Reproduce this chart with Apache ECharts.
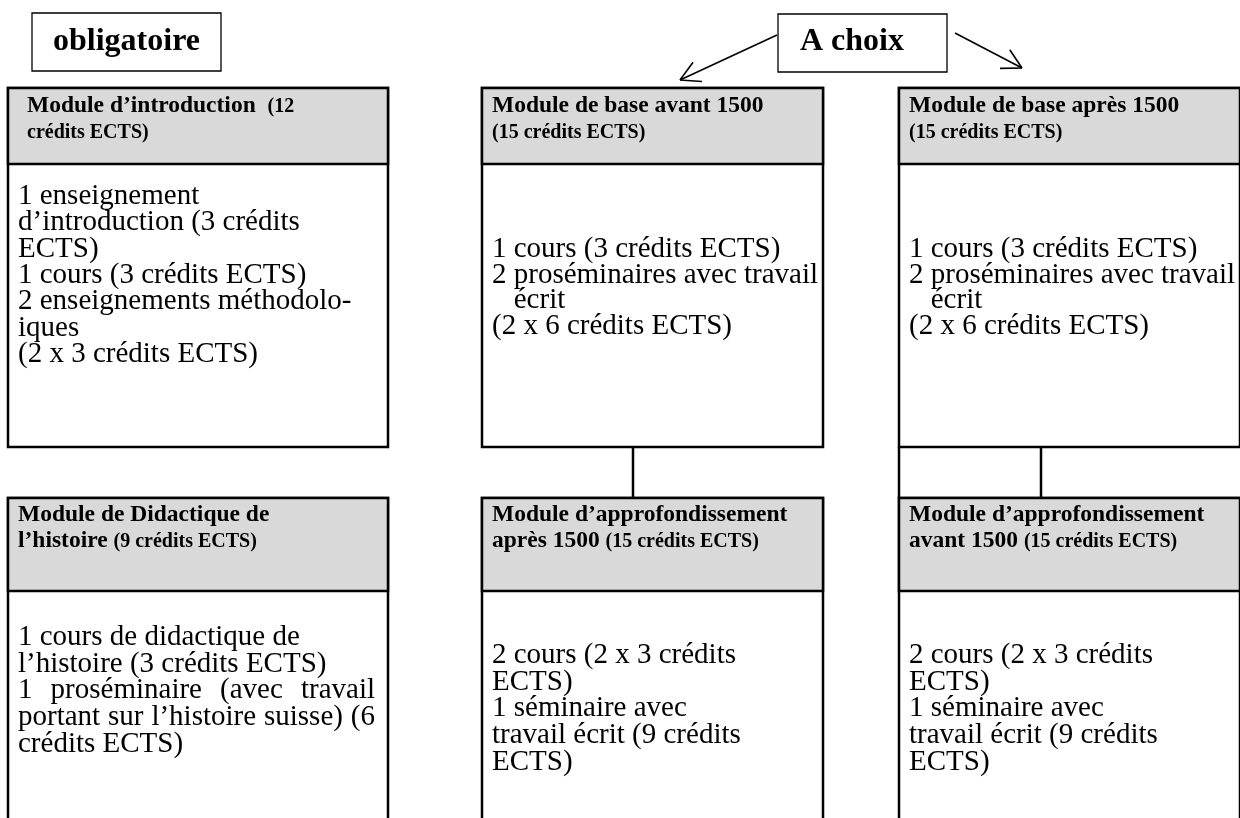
<!DOCTYPE html>
<html>
<head>
<meta charset="utf-8">
<script src="https://cdn.jsdelivr.net/npm/echarts@6/dist/echarts.min.js"></script>
<style>
  html, body { margin: 0; padding: 0; background: #fff; }
  #chart { width: 1240px; height: 818px; }
</style>
</head>
<body>
<div id="chart"></div>
<script>
// labels above the columns
const groupLabels = ['obligatoire', 'A choix'];

// module headers, line by line as wrapped in the original (credits part starts at '(')
const moduleHeader = [
  ['Module d’introduction  (12', 'crédits ECTS)'],
  ['Module de base avant 1500', '(15 crédits ECTS)'],
  ['Module de base après 1500', '(15 crédits ECTS)'],
  ['Module de Didactique de', 'l’histoire (9 crédits ECTS)'],
  ['Module d’approfondissement', 'après 1500 (15 crédits ECTS)'],
  ['Module d’approfondissement', 'avant 1500 (15 crédits ECTS)']
];

// module contents, line by line
const moduleBody = [
  ['1 enseignement', 'd’introduction (3 crédits', 'ECTS)', '1 cours (3 crédits ECTS)',
   '2 enseignements méthodolo-', 'iques', '(2 x 3 crédits ECTS)'],
  ['1 cours (3 crédits ECTS)', '2 proséminaires avec travail', '   écrit', '(2 x 6 crédits ECTS)'],
  ['1 cours (3 crédits ECTS)', '2 proséminaires avec travail', '   écrit', '(2 x 6 crédits ECTS)'],
  ['1 cours de didactique de', 'l’histoire (3 crédits ECTS)', '1 proséminaire (avec travail',
   'portant sur l’histoire suisse) (6', 'crédits ECTS)'],
  ['2 cours (2 x 3 crédits', 'ECTS)', '1 séminaire avec', 'travail écrit (9 crédits', 'ECTS)'],
  ['2 cours (2 x 3 crédits', 'ECTS)', '1 séminaire avec', 'travail écrit (9 crédits', 'ECTS)']
];

// grid position of each module
const moduleCol = [0, 1, 2, 0, 1, 2];
const moduleRow = [0, 0, 0, 1, 1, 1];

// ---- layout ----
const FAMILY = '"Liberation Serif", "Times New Roman", serif';
const HEAD_SIZE = 23.5, SMALL_SIZE = 20, BODY_SIZE = 29, LABEL_SIZE = 32;
const FONT_HEAD = 'bold ' + HEAD_SIZE + 'px ' + FAMILY;
const FONT_SMALL = 'bold ' + SMALL_SIZE + 'px ' + FAMILY;
const FONT_BODY = BODY_SIZE + 'px ' + FAMILY;
const FONT_LABEL = 'bold ' + LABEL_SIZE + 'px ' + FAMILY;

const COL_X = [8, 482, 899];
const COL_W = [380, 341, 341];
const ROW_Y = [88, 498];
const HEAD_H = [76, 93];
const ROW_BOTTOM = [447, 840];
const HEAD_BASE = [26, 25];
const HEAD_STEP = 26;
const BODY_BASE = [118, 171, 171, 149, 167, 167];
const BODY_STEP = [26.4, 25.8, 25.8, 26.7, 26.7, 26.7];
const PAD = 10;
const BOX_LW = 2.5;
// lines spread to the full width (justified paragraph)
const JUSTIFY = { 3: [2, 3] };
const JUSTIFY_W = 357;

const measureCtx = document.createElement('canvas').getContext('2d');
function measure(s, font) {
  measureCtx.font = font;
  return measureCtx.measureText(s).width;
}

// text placed by its baseline
function txt(text, x, baseline, font, size, align) {
  return {
    type: 'text',
    style: {
      text: text, x: x, y: baseline - 0.3375 * size,
      font: font, fill: '#000', align: align || 'left', verticalAlign: 'middle'
    }
  };
}

function renderModule(params, api) {
  const i = params.dataIndex;
  const c = moduleCol[i], r = moduleRow[i];
  const x = COL_X[c], w = COL_W[c], y0 = ROW_Y[r], hh = HEAD_H[r], y1 = ROW_BOTTOM[r];
  const children = [
    { type: 'rect', shape: { x: x, y: y0, width: w, height: y1 - y0 },
      style: { fill: '#fff', stroke: '#000', lineWidth: BOX_LW } },
    { type: 'rect', shape: { x: x, y: y0, width: w, height: hh },
      style: { fill: '#d9d9d9', stroke: '#000', lineWidth: BOX_LW } }
  ];

  // header: title in large bold, credits in smaller bold
  let small = false;
  const hx = x + (i === 0 ? 19 : PAD);
  moduleHeader[i].forEach(function (line, k) {
    const base = y0 + HEAD_BASE[r] + k * HEAD_STEP;
    let cut = small ? 0 : line.indexOf('(');
    if (cut < 0) cut = line.length;
    const big = line.slice(0, cut), rest = line.slice(cut);
    if (big) children.push(txt(big, hx, base, FONT_HEAD, HEAD_SIZE));
    if (rest) {
      children.push(txt(rest, hx + measure(big, FONT_HEAD), base, FONT_SMALL, SMALL_SIZE));
      small = true;
    }
  });

  // body lines
  const bx = x + PAD;
  const just = JUSTIFY[i] || [];
  moduleBody[i].forEach(function (line, k) {
    const base = y0 + BODY_BASE[i] + k * BODY_STEP[i];
    if (just.indexOf(k) >= 0) {
      const words = line.split(' ');
      const widths = words.map(function (wd) { return measure(wd, FONT_BODY); });
      const total = widths.reduce(function (a, b) { return a + b; }, 0);
      const gap = (JUSTIFY_W - total) / (words.length - 1);
      let cx = bx;
      words.forEach(function (wd, n) {
        children.push(txt(wd, cx, base, FONT_BODY, BODY_SIZE));
        cx += widths[n] + gap;
      });
    } else {
      children.push(txt(line, bx, base, FONT_BODY, BODY_SIZE));
    }
  });

  return { type: 'group', children: children };
}

// open arrow from (x1,y1) to tip (x2,y2)
function arrow(x1, y1, x2, y2, len, ang) {
  const a = Math.atan2(y1 - y2, x1 - x2);
  const style = { stroke: '#000', lineWidth: 1.6 };
  const wing = function (d) {
    return { type: 'line', shape: { x1: x2, y1: y2,
      x2: x2 + len * Math.cos(a + d), y2: y2 + len * Math.sin(a + d) }, style: style };
  };
  return [
    { type: 'line', shape: { x1: x1, y1: y1, x2: x2, y2: y2 }, style: style },
    wing(ang), wing(-ang)
  ];
}

const chart = echarts.init(document.getElementById('chart'), null, { renderer: 'canvas' });

const labelBoxes = [
  { type: 'rect', shape: { x: 32, y: 13, width: 189, height: 58 },
    style: { fill: '#fff', stroke: '#000', lineWidth: 1.3 } },
  txt(groupLabels[0], 126.5, 53, FONT_LABEL, LABEL_SIZE, 'center'),
  { type: 'rect', shape: { x: 778, y: 14, width: 169, height: 58 },
    style: { fill: '#fff', stroke: '#000', lineWidth: 1.3 } },
  txt(groupLabels[1], 800, 53, FONT_LABEL, LABEL_SIZE)
];

const connectors = [
  { type: 'line', shape: { x1: 633, y1: 447, x2: 633, y2: 498 }, style: { stroke: '#000', lineWidth: BOX_LW } },
  { type: 'line', shape: { x1: 1041, y1: 447, x2: 1041, y2: 498 }, style: { stroke: '#000', lineWidth: BOX_LW } },
  { type: 'line', shape: { x1: 899, y1: 447, x2: 899, y2: 498 }, style: { stroke: '#000', lineWidth: BOX_LW } }
];

chart.setOption({
  animation: false,
  backgroundColor: '#fff',
  graphic: [{
    type: 'group',
    z: 100,
    children: labelBoxes
      .concat(arrow(777, 35, 680, 80, 22, 0.5))
      .concat(arrow(955, 33, 1022, 68, 22, 0.5))
      .concat(connectors)
  }],
  series: [{
    type: 'custom',
    coordinateSystem: 'none',
    silent: true,
    data: moduleHeader.map(function (h, i) { return i; }),
    renderItem: renderModule
  }]
});
</script>
</body>
</html>
